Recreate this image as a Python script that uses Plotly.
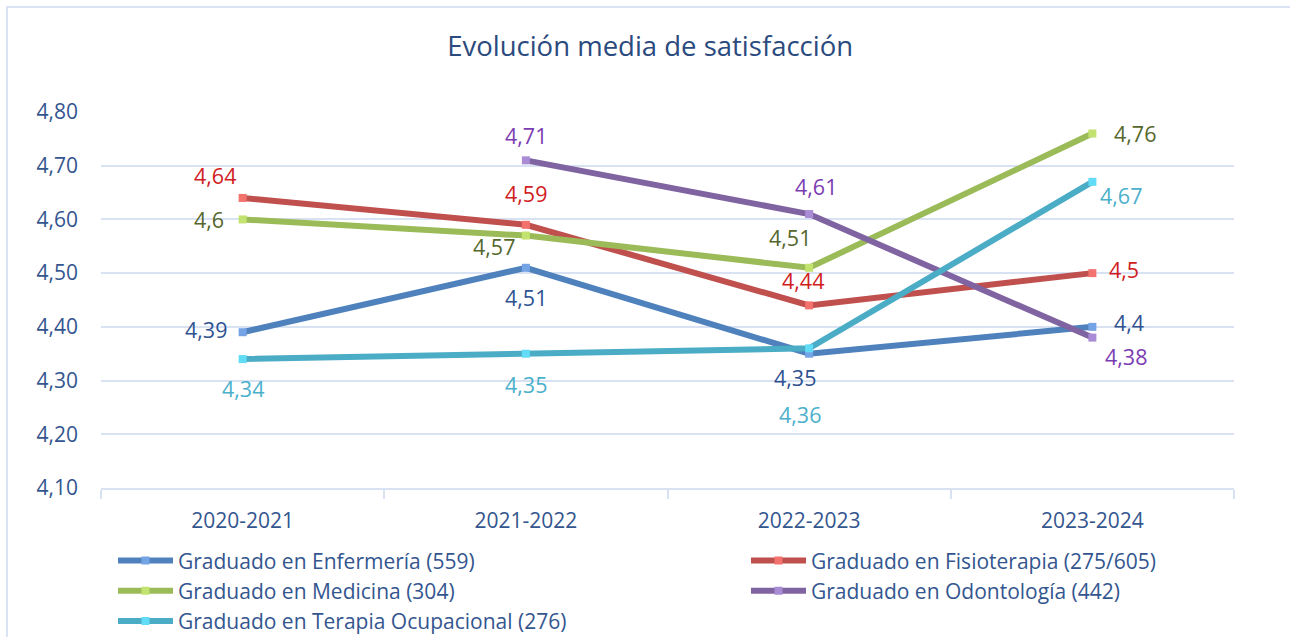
import plotly.graph_objects as go

# ---------------- data ----------------
categories = ["2020-2021", "2021-2022", "2022-2023", "2023-2024"]
series_names = [
    "Graduado en Enfermería (559)",
    "Graduado en Fisioterapia (275/605)",
    "Graduado en Medicina (304)",
    "Graduado en Odontología (442)",
    "Graduado en Terapia Ocupacional (276)",
]
enfermeria = [4.39, 4.51, 4.35, 4.40]
fisioterapia = [4.64, 4.59, 4.44, 4.50]
medicina = [4.60, 4.57, 4.51, 4.76]
odontologia = [None, 4.71, 4.61, 4.38]
terapia = [4.34, 4.35, 4.36, 4.67]
y_ticks = [4.10, 4.20, 4.30, 4.40, 4.50, 4.60, 4.70, 4.80]

# ---------------- styles ----------------
FONT = "Open Sans"
AXIS_TXT = "#34568f"
GRID = "#d9e2f3"
line_colors = ["#4f81bd", "#c0504d", "#9bbb59", "#8064a2", "#4bacc6"]
marker_colors = ["#74a3e6", "#f2726e", "#c2e36f", "#a98bd6", "#62dcf6"]
label_colors = ["#2f5291", "#d0201e", "#56672c", "#7b3cb2", "#4bb0cc"]
legend_of = ["legend", "legend2", "legend", "legend2", "legend"]

# label placement per series/point: (xanchor, xshift, yshift)
label_pos = [
    [("right", -14, 3), ("center", 0, -30), ("center", -14, -24), ("left", 20, 4)],
    [("center", -28, 22), ("center", 0, 31), ("center", -6, 25), ("left", 15, 4)],
    [("right", -17, 0), ("center", -32, -11), ("center", -19, 30), ("left", 20, 0)],
    [None, ("center", 0, 25), ("center", 7, 28), ("left", 11, -19)],
    [("center", 0, -29), ("center", 0, -31), ("center", -9, -66), ("left", 6, -14)],
]


def fmt(v):
    return f"{v:g}".replace(".", ",")


all_series = [enfermeria, fisioterapia, medicina, odontologia, terapia]

fig = go.Figure()
annotations = []
for i, (name, vals) in enumerate(zip(series_names, all_series)):
    fig.add_trace(
        go.Scatter(
            x=categories,
            y=vals,
            name=name,
            legend=legend_of[i],
            mode="lines+markers",
            line=dict(color=line_colors[i], width=6),
            marker=dict(symbol="square", size=8, color=marker_colors[i]),
            connectgaps=False,
            hoverinfo="x+y+name",
        )
    )
    for j, v in enumerate(vals):
        if v is None or label_pos[i][j] is None:
            continue
        xa, xs, ys = label_pos[i][j]
        annotations.append(
            dict(
                x=categories[j],
                y=v,
                xref="x",
                yref="y",
                text=fmt(v),
                showarrow=False,
                xanchor=xa,
                yanchor="middle",
                xshift=xs,
                yshift=ys,
                font=dict(family=FONT, size=21.5, color=label_colors[i]),
            )
        )

legend_common = dict(
    orientation="v",
    xanchor="left",
    y=-0.139,
    yanchor="top",
    font=dict(family=FONT, size=21, color=AXIS_TXT),
    traceorder="normal",
    itemwidth=55,
    bgcolor="rgba(0,0,0,0)",
    borderwidth=0,
)

fig.update_layout(
    width=1290,
    height=637,
    paper_bgcolor="white",
    plot_bgcolor="white",
    margin=dict(l=101, r=56, t=112, b=149, autoexpand=False),
    separators=",.",
    font=dict(family=FONT, size=21, color=AXIS_TXT),
    title=dict(
        text="Evolución media de satisfacción",
        x=0.504,
        xanchor="center",
        y=1 - 46 / 637,
        yanchor="middle",
        font=dict(family=FONT, size=27.5, color="#2b4a7e"),
    ),
    showlegend=True,
    legend=dict(x=(113 - 101) / 1133, **legend_common),
    legend2=dict(x=(746 - 101) / 1133, **legend_common),
    annotations=annotations,
    shapes=[
        dict(
            type="rect",
            xref="paper",
            yref="paper",
            x0=(7 - 101) / 1133,
            x1=(1300 - 101) / 1133,
            y0=-(650 - 488) / 376,
            y1=(488 - 7) / 376,
            line=dict(color="#dae3f3", width=2),
            fillcolor="rgba(0,0,0,0)",
            layer="below",
        )
    ],
)

fig.update_xaxes(
    type="category",
    range=[-0.5, 3.5],
    autorange=False,
    showgrid=False,
    showline=True,
    linecolor=GRID,
    linewidth=2,
    ticks="outside",
    tickson="boundaries",
    ticklen=9,
    tickwidth=2,
    tickcolor=GRID,
    ticklabelstandoff=13,
    tickfont=dict(family=FONT, size=21, color=AXIS_TXT),
    zeroline=False,
)
fig.update_yaxes(
    range=[4.10, 4.80],
    autorange=False,
    tickvals=y_ticks,
    tickformat=".2f",
    showgrid=True,
    gridcolor=GRID,
    gridwidth=2,
    showline=False,
    zeroline=False,
    ticks="",
    ticklabelstandoff=22,
    tickfont=dict(family=FONT, size=21, color=AXIS_TXT),
)

fig.write_html(
    "out.html",
    config={"displayModeBar": False},
    post_script="document.body.style.margin='0px';",
)
